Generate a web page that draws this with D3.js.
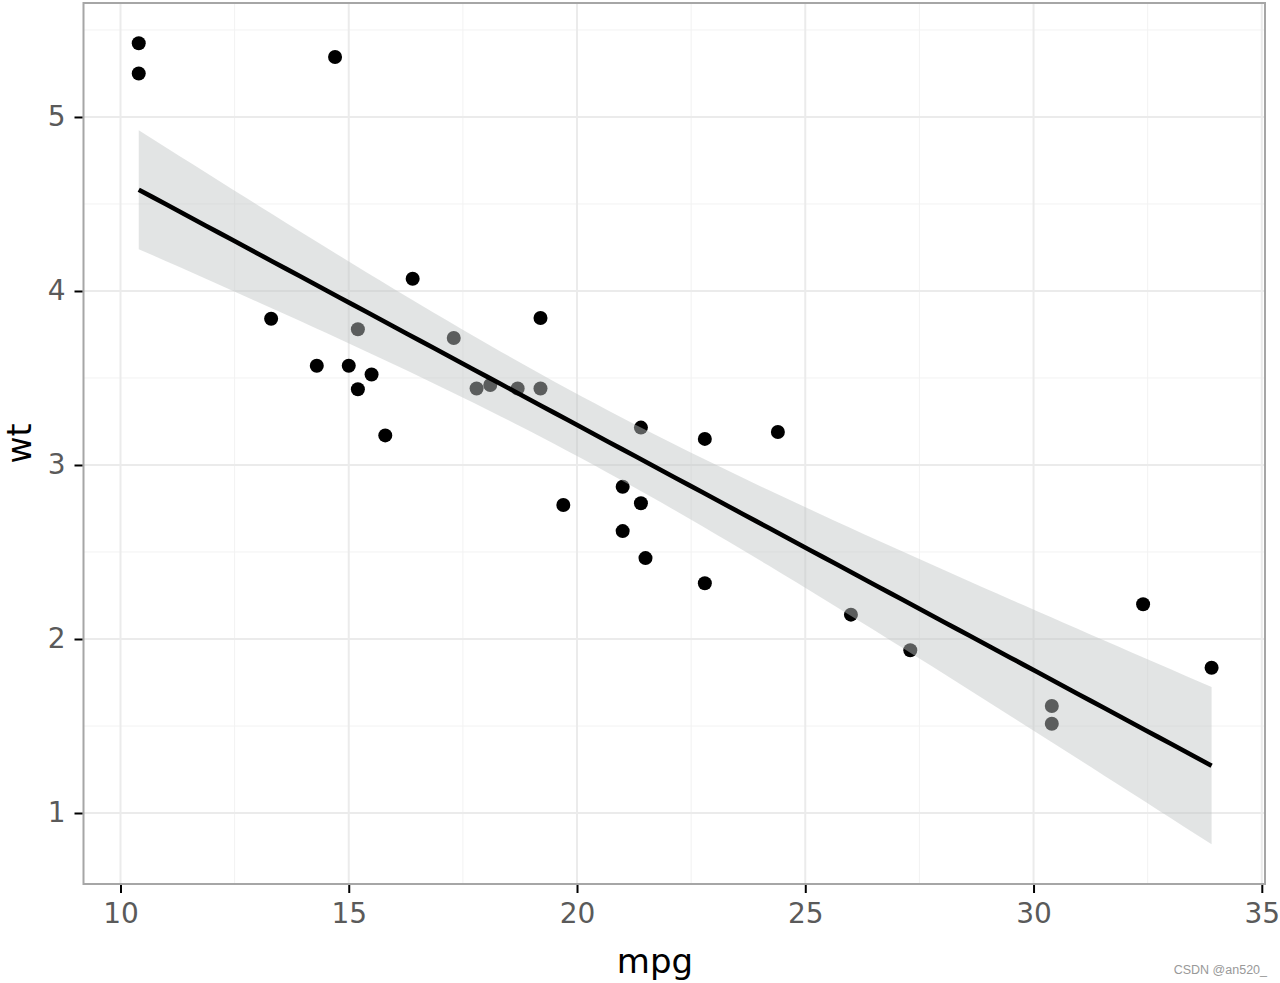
<!DOCTYPE html>
<html>
<head>
<meta charset="utf-8">
<script src="https://cdn.jsdelivr.net/npm/d3@7"></script>
<style>
  html, body { margin: 0; padding: 0; background: #ffffff; }
  svg { display: block; }
  text { font-family: "DejaVu Sans", sans-serif; }
</style>
</head>
<body>
<script>
// mtcars: mpg vs wt
const mpg = [21.0, 21.0, 22.8, 21.4, 18.7, 18.1, 14.3, 24.4, 22.8, 19.2, 17.8, 16.4, 17.3, 15.2, 10.4, 10.4,
             14.7, 32.4, 30.4, 33.9, 21.5, 15.5, 15.2, 13.3, 19.2, 27.3, 26.0, 30.4, 15.8, 19.7, 15.0, 21.4];
const wt  = [2.620, 2.875, 2.320, 3.215, 3.440, 3.460, 3.570, 3.190, 3.150, 3.440, 3.440, 4.070, 3.730, 3.780, 5.250, 5.424,
             5.345, 2.200, 1.615, 1.835, 2.465, 3.520, 3.435, 3.840, 3.845, 1.935, 2.140, 1.513, 3.170, 2.770, 3.570, 2.780];
const xTicks = [10, 15, 20, 25, 30, 35];
const yTicks = [1, 2, 3, 4, 5];
const xMinor = [12.5, 17.5, 22.5, 27.5, 32.5];
const yMinor = [1.5, 2.5, 3.5, 4.5, 5.5];
const xTitle = "mpg";
const yTitle = "wt";
const tCrit = 2.042; // t(0.975, df=30)

const W = 1280, H = 983;
const L = 83.5, R = 1265, T = 3, B = 884;

const svg = d3.select("body").append("svg").attr("width", W).attr("height", H);

const x = d3.scaleLinear().domain([9.19, 35.07]).range([L, R]);
const y = d3.scaleLinear().domain([0.592, 5.655]).range([B, T]);

// panel background
svg.append("rect").attr("x", L).attr("y", T).attr("width", R - L).attr("height", B - T).attr("fill", "#fff");

// grid
const g = svg.append("g");
g.selectAll(".xmin").data(xMinor).enter().append("line")
  .attr("x1", d => x(d)).attr("x2", d => x(d)).attr("y1", T).attr("y2", B)
  .attr("stroke", "#f2f2f2").attr("stroke-width", 1);
g.selectAll(".ymin").data(yMinor).enter().append("line")
  .attr("y1", d => y(d)).attr("y2", d => y(d)).attr("x1", L).attr("x2", R)
  .attr("stroke", "#f2f2f2").attr("stroke-width", 1);
g.selectAll(".xmaj").data(xTicks).enter().append("line")
  .attr("x1", d => x(d)).attr("x2", d => x(d)).attr("y1", T).attr("y2", B)
  .attr("stroke", "#ebebeb").attr("stroke-width", 2);
g.selectAll(".ymaj").data(yTicks).enter().append("line")
  .attr("y1", d => y(d)).attr("y2", d => y(d)).attr("x1", L).attr("x2", R)
  .attr("stroke", "#ebebeb").attr("stroke-width", 2);

// points
const pts = mpg.map((m, i) => ({ m, w: wt[i] }));
svg.append("g").selectAll("circle").data(pts).enter().append("circle")
  .attr("cx", d => x(d.m)).attr("cy", d => y(d.w)).attr("r", 7).attr("fill", "#000");

// linear model
const n = mpg.length;
const mx = d3.mean(mpg), my = d3.mean(wt);
let sxx = 0, sxy = 0;
for (let i = 0; i < n; i++) { sxx += (mpg[i] - mx) ** 2; sxy += (mpg[i] - mx) * (wt[i] - my); }
const b1 = sxy / sxx, b0 = my - b1 * mx;
let sse = 0;
for (let i = 0; i < n; i++) sse += (wt[i] - b0 - b1 * mpg[i]) ** 2;
const sigma = Math.sqrt(sse / (n - 2));
const xmin = d3.min(mpg), xmax = d3.max(mpg);
const grid = d3.range(0, 81).map(k => xmin + (xmax - xmin) * k / 80);
const fit = grid.map(xv => {
  const yh = b0 + b1 * xv;
  const se = sigma * Math.sqrt(1 / n + (xv - mx) ** 2 / sxx);
  return { x: xv, y: yh, lo: yh - tCrit * se, hi: yh + tCrit * se };
});

svg.append("path").datum(fit)
  .attr("d", d3.area().x(d => x(d.x)).y0(d => y(d.lo)).y1(d => y(d.hi)))
  .attr("fill", "#c2c5c5").attr("fill-opacity", 0.47);
svg.append("path").datum(fit)
  .attr("d", d3.line().x(d => x(d.x)).y(d => y(d.y)))
  .attr("fill", "none").attr("stroke", "#000").attr("stroke-width", 4.6);

// panel border
svg.append("rect").attr("x", L).attr("y", T).attr("width", R - L).attr("height", B - T)
  .attr("fill", "none").attr("stroke", "#a6a6a6").attr("stroke-width", 2);

// axes
const xAxis = svg.append("g").attr("transform", `translate(0,${B + 1})`)
  .call(d3.axisBottom(x).tickValues(xTicks).tickSize(8).tickPadding(10).tickFormat(d3.format("d")));
const yAxis = svg.append("g").attr("transform", `translate(${L - 1},0)`)
  .call(d3.axisLeft(y).tickValues(yTicks).tickSize(8).tickPadding(9).tickFormat(d3.format("d")));
[xAxis, yAxis].forEach(a => {
  a.select(".domain").remove();
  a.selectAll(".tick line").attr("stroke", "#000").attr("stroke-width", 2);
  a.selectAll(".tick text").attr("fill", "#5a5a5a").style("font-size", "28px")
    .style("font-family", "'DejaVu Sans', sans-serif");
});

// titles
svg.append("text").attr("x", 655).attr("y", 973).attr("text-anchor", "middle")
  .style("font-size", "34px").attr("fill", "#000").text(xTitle);
svg.append("text").attr("transform", `translate(31,${(T + B) / 2}) rotate(-90)`).attr("text-anchor", "middle")
  .style("font-size", "33px").attr("fill", "#000").text(yTitle);

// watermark
svg.append("text").attr("x", 1267).attr("y", 974).attr("text-anchor", "end")
  .style("font-size", "12.5px").style("font-family", "'Liberation Sans', sans-serif").attr("fill", "#999").text("CSDN @an520_");
</script>
</body>
</html>
